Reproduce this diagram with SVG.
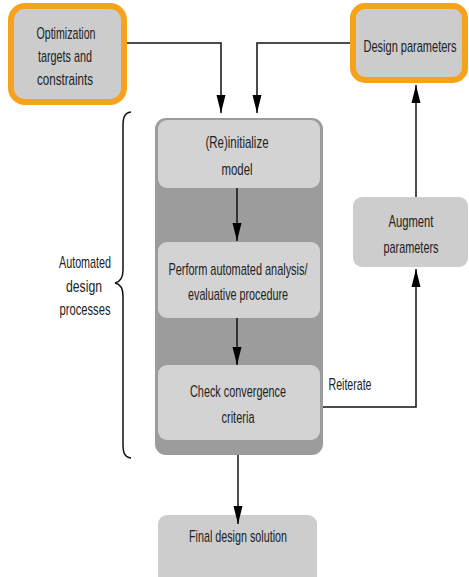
<svg xmlns="http://www.w3.org/2000/svg" width="469" height="577" viewBox="0 0 469 577">
<style>
text{font-family:"Liberation Sans Narrow","Liberation Sans",Arial,sans-serif;font-size:17px;fill:#222;text-anchor:middle}
.hl{fill:#cccccc;stroke:#f7a21b;stroke-width:6}
.inner{fill:#d3d3d3}
.outer{fill:#9c9c9c}
.plain{fill:#cdcdcd}
.ln{fill:none;stroke:#111;stroke-width:1.5}
</style>
<defs>
<marker id="ah" viewBox="0 0 18 10" refX="18" refY="5" markerWidth="18" markerHeight="10" markerUnits="userSpaceOnUse" orient="auto">
<path d="M0,0.5 L18,5 L0,9.5 Z" fill="#000"/>
</marker>
</defs>
<g id="opt">
<rect class="hl" x="11" y="6" width="113" height="96" rx="14"/>
<text x="66" y="39" textLength="59" lengthAdjust="spacingAndGlyphs">Optimization</text>
<text x="65" y="62" textLength="54" lengthAdjust="spacingAndGlyphs">targets and</text>
<text x="65" y="85" textLength="56" lengthAdjust="spacingAndGlyphs">constraints</text>
</g>
<g id="designparams">
<rect class="hl" x="353" y="6" width="112" height="74" rx="12"/>
<text x="410" y="52" textLength="93" lengthAdjust="spacingAndGlyphs">Design parameters</text>
</g>
<g id="automated">
<rect class="outer" x="155" y="118" width="168" height="337" rx="11"/>
</g>
<g id="reinit">
<rect class="inner" x="158" y="120" width="162" height="68" rx="9"/>
<text x="237" y="148" textLength="63" lengthAdjust="spacingAndGlyphs">(Re)initialize</text>
<text x="237" y="175" textLength="31" lengthAdjust="spacingAndGlyphs">model</text>
</g>
<g id="perform">
<rect class="inner" x="158" y="242" width="162" height="76" rx="9"/>
<text x="238" y="275" textLength="139" lengthAdjust="spacingAndGlyphs">Perform automated analysis/</text>
<text x="238" y="300" textLength="100" lengthAdjust="spacingAndGlyphs">evaluative procedure</text>
</g>
<g id="check">
<rect class="inner" x="158" y="365" width="162" height="75" rx="9"/>
<text x="238" y="397" textLength="96" lengthAdjust="spacingAndGlyphs">Check convergence</text>
<text x="238" y="423" textLength="33" lengthAdjust="spacingAndGlyphs">criteria</text>
</g>
<g id="augment">
<rect class="plain" x="353" y="197" width="115" height="70" rx="9"/>
<text x="411" y="227" textLength="45" lengthAdjust="spacingAndGlyphs">Augment</text>
<text x="411" y="253" textLength="55" lengthAdjust="spacingAndGlyphs">parameters</text>
</g>
<g id="final">
<rect class="plain" x="158" y="515" width="159" height="70" rx="9"/>
<text x="238" y="542" textLength="98" lengthAdjust="spacingAndGlyphs">Final design solution</text>
</g>
<g id="brace-label">
<path class="ln" d="M131,112 C124,113 123,118 123,126 L123,270 C123,278 120,282 115,283 C120,284 123,288 123,296 L123,444 C123,452 124,457 131,458"/>
<text x="85" y="268" textLength="52" lengthAdjust="spacingAndGlyphs">Automated</text>
<text x="84" y="292" textLength="36" lengthAdjust="spacingAndGlyphs">design</text>
<text x="85" y="315" textLength="51" lengthAdjust="spacingAndGlyphs">processes</text>
</g>
<g id="connectors">
<path class="ln" d="M127,43 H221 V113" marker-end="url(#ah)"/>
<path class="ln" d="M350,43 H257 V113" marker-end="url(#ah)"/>
<path class="ln" d="M237,188 V241" marker-end="url(#ah)"/>
<path class="ln" d="M237,318 V365" marker-end="url(#ah)"/>
<path class="ln" d="M238,455 V524" marker-end="url(#ah)"/>
<path class="ln" d="M323,407 H416 V269" marker-end="url(#ah)"/>
<path class="ln" d="M416,197 V85" marker-end="url(#ah)"/>
<text x="350" y="390" textLength="43" lengthAdjust="spacingAndGlyphs">Reiterate</text>
</g>
</svg>
